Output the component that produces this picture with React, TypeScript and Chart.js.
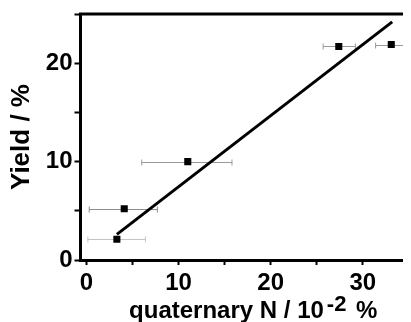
import { useEffect, useRef } from 'react';
import { Chart, registerables } from 'chart.js';

Chart.register(...registerables);

// ---- data ----
const xValues = [3.3, 4.1, 11.0, 27.4, 33.1];
const yValues = [2.1, 5.2, 10.0, 21.7, 21.9];
const xErrLow = [0.15, 0.3, 6.0, 25.7, 31.4];
const xErrHigh = [6.4, 7.7, 15.8, 29.2, 34.8];
const errColors = ['#c4c4c4', '#8c8c8c', '#9a9a9a', '#9a9a9a', '#9a9a9a'];
const fitX = [3.3, 33.2];
const fitY = [2.6, 24.2];
const xTicks = [0, 5, 10, 15, 20, 25, 30];
const yTicks = [0, 5, 10, 15, 20, 25];
const xTitleMain = 'quaternary N / 10';
const xTitleSup = '-2';
const xTitleEnd = ' %';
const yTitle = 'Yield / %';

const FONT = '"Liberation Sans", Arial, sans-serif';

const errorBarPlugin = {
  id: 'errorBars',
  beforeDatasetsDraw(chart: any) {
    const { ctx, scales } = chart;
    const xs = scales.x;
    const ys = scales.y;
    ctx.save();
    ctx.lineWidth = 1;
    for (let i = 0; i < xValues.length; i++) {
      const y = Math.round(ys.getPixelForValue(yValues[i])) + 0.5;
      const x1 = xs.getPixelForValue(xErrLow[i]);
      const x2 = xs.getPixelForValue(xErrHigh[i]);
      ctx.strokeStyle = errColors[i];
      ctx.beginPath();
      ctx.moveTo(x1, y);
      ctx.lineTo(x2, y);
      ctx.moveTo(x1, y - 3);
      ctx.lineTo(x1, y + 3);
      ctx.moveTo(x2, y - 3);
      ctx.lineTo(x2, y + 3);
      ctx.stroke();
    }
    ctx.restore();
  },
};

const framePlugin = {
  id: 'frame',
  afterDraw(chart: any) {
    const { ctx, chartArea } = chart;
    ctx.save();
    ctx.strokeStyle = '#000';
    ctx.lineWidth = 3;
    ctx.beginPath();
    ctx.moveTo(chartArea.left - 1.5, chartArea.top);
    ctx.lineTo(chartArea.right, chartArea.top);
    ctx.lineTo(chartArea.right, chartArea.bottom + 1.5);
    ctx.stroke();
    ctx.restore();
  },
};

const xTitlePlugin = {
  id: 'xTitle',
  afterDraw(chart: any) {
    const { ctx, chartArea } = chart;
    const mainFont = `bold 24px ${FONT}`;
    const supFont = `bold 22px ${FONT}`;
    ctx.save();
    ctx.fillStyle = '#000';
    ctx.textAlign = 'left';
    ctx.textBaseline = 'alphabetic';
    ctx.font = mainFont;
    const w1 = ctx.measureText(xTitleMain).width;
    const w3 = ctx.measureText(xTitleEnd).width;
    ctx.font = supFont;
    const w2 = ctx.measureText(xTitleSup).width;
    const gap = 3;
    const total = w1 + gap + w2 + gap + w3;
    const cx = (chartArea.left + chartArea.right) / 2 + 10;
    let x = cx - total / 2;
    const y = chart.height - 4;
    ctx.font = mainFont;
    ctx.fillText(xTitleMain, x, y);
    x += w1 + gap;
    ctx.font = supFont;
    ctx.fillText(xTitleSup, x, y - 7);
    x += w2 + gap;
    ctx.font = mainFont;
    ctx.fillText(xTitleEnd, x, y);
    ctx.restore();
  },
};

export default function App() {
  const ref = useRef<HTMLCanvasElement | null>(null);

  useEffect(() => {
    if (!ref.current) return;
    const points = xValues.map((x, i) => ({ x, y: yValues[i] }));
    const fit = fitX.map((x, i) => ({ x, y: fitY[i] }));
    const tickFont = { family: FONT, size: 24, weight: 'bold' as const };

    const chart = new Chart(ref.current, {
      type: 'scatter',
      data: {
        datasets: [
          {
            label: 'fit',
            data: fit,
            showLine: true,
            borderColor: '#000',
            borderWidth: 3,
            pointRadius: 0,
            fill: false,
          } as any,
          {
            label: 'data',
            data: points,
            pointStyle: 'rect',
            pointRadius: 5,
            backgroundColor: '#000',
            borderColor: '#000',
            borderWidth: 0,
          },
        ],
      },
      options: {
        responsive: false,
        animation: false,
        devicePixelRatio: 1,
        layout: { padding: { top: 6, right: 4.5, left: 0, bottom: 0 } },
        plugins: {
          legend: { display: false },
          tooltip: { enabled: false },
        },
        scales: {
          x: {
            type: 'linear',
            min: -0.65,
            max: 34.7,
            afterBuildTicks: (s: any) => {
              s.ticks = xTicks.map((v) => ({ value: v }));
            },
            afterFit: (s: any) => {
              s.height = 62;
              s.paddingLeft = 0;
              s.paddingRight = 0;
            },
            ticks: {
              autoSkip: false,
              maxRotation: 0,
              padding: 4,
              color: '#000',
              font: tickFont,
              callback: (v: any) => (Number(v) % 10 === 0 ? String(v) : ''),
            },
            grid: {
              drawOnChartArea: false,
              drawTicks: true,
              tickLength: 5,
              tickWidth: 2,
              tickColor: '#000',
            },
            border: { display: true, color: '#000', width: 3 },
          },
          y: {
            type: 'linear',
            min: 0,
            max: 25,
            afterBuildTicks: (s: any) => {
              s.ticks = yTicks.map((v) => ({ value: v }));
            },
            afterFit: (s: any) => {
              s.width = 72.5;
              s.paddingTop = 0;
              s.paddingBottom = 0;
            },
            title: {
              display: true,
              text: yTitle,
              color: '#000',
              font: { family: FONT, size: 26, weight: 'bold', lineHeight: 1.1 },
              padding: 0,
            },
            ticks: {
              autoSkip: false,
              padding: 2,
              color: '#000',
              font: tickFont,
              callback: (v: any) => (Number(v) % 10 === 0 ? String(v) : ''),
            },
            grid: {
              drawOnChartArea: false,
              drawTicks: true,
              tickLength: 6,
              tickWidth: 2,
              tickColor: '#000',
            },
            border: { display: true, color: '#000', width: 3 },
          },
        },
      },
      plugins: [errorBarPlugin, framePlugin, xTitlePlugin],
    });
    return () => chart.destroy();
  }, []);

  return <canvas ref={ref} width={403} height={314} style={{ display: 'block' }} />;
}
